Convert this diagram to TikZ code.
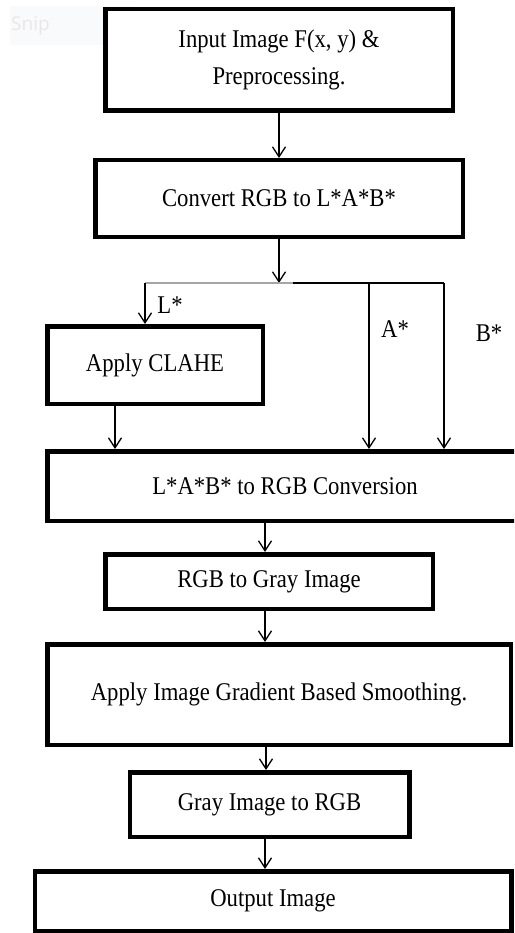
\documentclass[tikz,border=0pt]{standalone}
\usepackage{fontspec}
\setmainfont{Liberation Serif}
\newfontfamily\boxfont[FakeStretch=0.89]{Liberation Serif}
\newfontfamily\snipfont{Open Sans}
\usetikzlibrary{arrows.meta}
\definecolor{snipbg}{HTML}{F9FAFC}
\definecolor{snipfg}{HTML}{EAE6E8}
\tikzset{
  box/.style={draw=black, line width=4.5pt, fill=white, inner sep=0pt, align=center,
    font=\boxfont\fontsize{25.5}{37}\selectfont},
  conn/.style={draw=black, line width=1.3pt},
  arr/.style={conn, -{Straight Barb[length=10pt,width=13pt,line width=1.3pt]}},
  lbl/.style={font=\boxfont\fontsize{25.5}{28}\selectfont, inner sep=0pt}
}
\begin{document}
\begin{tikzpicture}[x=1pt,y=-1pt]
\clip (0,0) rectangle (514,933);
\useasboundingbox (0,0) rectangle (514,933);
\fill[white] (0,0) rectangle (514,933);
% faint watermark
\node[fill=snipbg, minimum width=123pt, minimum height=39pt, inner sep=0pt] (snipbox) at (71.5,26) {};
\node[font=\snipfont\fontsize{19}{22}\selectfont, text=snipfg, anchor=west, inner sep=0pt] (snip) at (11,26) {Snip};

\node[box, minimum width=347.5pt, minimum height=101.5pt] (in) at (279,60)
  {Input Image F(x, y) \&\\Preprocessing.};
\node[box, minimum width=367.5pt, minimum height=76.5pt] (conv) at (279,198.5)
  {Convert RGB to L*A*B*};
\node[box, minimum width=215.5pt, minimum height=77.5pt] (clahe) at (155,365)
  {Apply CLAHE};
\node[box, minimum width=475.5pt, minimum height=69.5pt] (lab) at (285,486)
  {L*A*B* to RGB Conversion};
\node[box, minimum width=327.5pt, minimum height=54.5pt] (gray) at (269,581.5)
  {RGB to Gray Image};
\node[box, minimum width=463.5pt, minimum height=100.5pt] (grad) at (279,694.5)
  {Apply Image Gradient Based Smoothing.};
\node[box, minimum width=279.5pt, minimum height=64.5pt] (g2r) at (269.5,804.5)
  {Gray Image to RGB};
\node[box, minimum width=476.5pt, minimum height=59.5pt] (out) at (273,901)
  {Output Image};

% junction
\coordinate (j) at (279,283);
\coordinate (jl) at (145,283);
\coordinate (jm) at (293,283);
\coordinate (ja) at (369,283);
\coordinate (jb) at (444,283);

\draw[arr] (in.south -| j) -- (conv.north -| j);
\draw[arr] (conv.south -| j) -- (j);
\draw[conn, draw=gray!70] (jl) -- (jm);
\draw[conn] (jm) -- (jb);
\draw[arr] (jl) -- (clahe.north -| jl);
\draw[arr] (ja) -- (lab.north -| ja);
\draw[arr] (jb) -- (lab.north -| jb);
\coordinate (cl) at (115,0);
\draw[arr] (clahe.south -| cl) -- (lab.north -| cl);
\coordinate (c2) at (265,0);
\draw[arr] (lab.south -| c2) -- (gray.north -| c2);
\draw[arr] (gray.south -| c2) -- (grad.north -| c2);
\coordinate (c3) at (266,0);
\draw[arr] (grad.south -| c3) -- (g2r.north -| c3);
\draw[arr] (g2r.south -| c2) -- (out.north -| c2);

\node[lbl] (Ll) at (170,305) {L*};
\node[lbl] (Al) at (395,329) {A*};
\node[lbl] (Bl) at (489,333) {B*};
\end{tikzpicture}
\end{document}
